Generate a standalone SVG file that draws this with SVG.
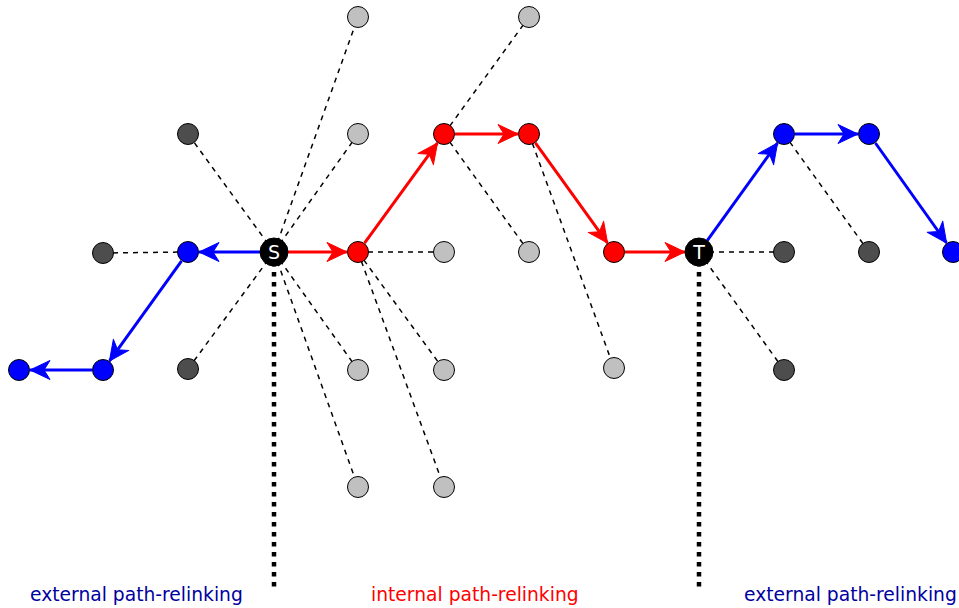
<svg xmlns="http://www.w3.org/2000/svg" width="959" height="608" viewBox="0 0 959 608">
<style>
.n{stroke:#000;stroke-width:1}
.lg{fill:#c0c0c0}
.dg{fill:#4d4d4d}
.r{fill:#ff0000}
.b{fill:#0000ff}
.k{fill:#000}
.d{stroke:#000;stroke-width:1.5;stroke-dasharray:5 5;fill:none}
.v{stroke:#000;stroke-width:4.5;stroke-dasharray:4.5 5.5;fill:none}
.ar{stroke:#ff0000;stroke-width:3;fill:none;marker-end:url(#mr)}
.ab{stroke:#0000ff;stroke-width:3;fill:none;marker-end:url(#mb)}
.lab{font-family:"DejaVu Sans",sans-serif;font-size:18.7px}
.nl{font-family:"DejaVu Sans",sans-serif;font-size:19px;fill:#fff;text-anchor:middle}
</style>
<defs>
<marker id="mr" markerUnits="userSpaceOnUse" markerWidth="24" markerHeight="22" refX="20" refY="10" orient="auto" overflow="visible">
<path d="M0,0.5 L20,10 L0,19.5 L6,10 z" fill="#ff0000" stroke="#ff0000" stroke-width="1" stroke-linejoin="round"/>
</marker>
<marker id="mb" markerUnits="userSpaceOnUse" markerWidth="24" markerHeight="22" refX="20" refY="10" orient="auto" overflow="visible">
<path d="M0,0.5 L20,10 L0,19.5 L6,10 z" fill="#0000ff" stroke="#0000ff" stroke-width="1" stroke-linejoin="round"/>
</marker>
</defs>
<g id="connectors">
<line class="v" x1="274" y1="262" x2="274" y2="592"/>
<line class="v" x1="699" y1="262" x2="699" y2="592"/>
<line class="d" x1="274" y1="252" x2="358" y2="17"/>
<line class="d" x1="274" y1="252" x2="358" y2="134"/>
<line class="d" x1="274" y1="252" x2="188" y2="134"/>
<line class="d" x1="274" y1="252" x2="188" y2="369"/>
<line class="d" x1="274" y1="252" x2="358" y2="370"/>
<line class="d" x1="274" y1="252" x2="358" y2="487"/>
<line class="d" x1="188" y1="252" x2="103" y2="253"/>
<line class="d" x1="358" y1="252" x2="444" y2="252"/>
<line class="d" x1="358" y1="252" x2="444" y2="370"/>
<line class="d" x1="358" y1="252" x2="444" y2="487"/>
<line class="d" x1="444" y1="134" x2="529" y2="17"/>
<line class="d" x1="444" y1="134" x2="529" y2="252"/>
<line class="d" x1="529" y1="134" x2="614" y2="368"/>
<line class="d" x1="699" y1="252" x2="784" y2="252"/>
<line class="d" x1="699" y1="252" x2="784" y2="370"/>
<line class="d" x1="784" y1="134" x2="869" y2="252"/>
<line class="ab" x1="262" y1="252" x2="199" y2="252"/>
<line class="ab" x1="181.6" y1="260.9" x2="109.4" y2="361.1"/>
<line class="ab" x1="92" y1="370" x2="30" y2="370"/>
<line class="ar" x1="286" y1="252" x2="347" y2="252"/>
<line class="ar" x1="364.5" y1="243.1" x2="437.5" y2="142.9"/>
<line class="ar" x1="455" y1="134" x2="518" y2="134"/>
<line class="ar" x1="535.4" y1="142.9" x2="607.6" y2="243.1"/>
<line class="ar" x1="625" y1="252" x2="685" y2="252"/>
<line class="ab" x1="707.2" y1="240.6" x2="777.6" y2="142.9"/>
<line class="ab" x1="795" y1="134" x2="858" y2="134"/>
<line class="ab" x1="875.4" y1="143" x2="946.6" y2="243"/>
</g>
<g id="n_lg1"><circle class="n lg" cx="358" cy="17" r="10.5"/></g>
<g id="n_lg2"><circle class="n lg" cx="529" cy="17" r="10.5"/></g>
<g id="n_lg3"><circle class="n lg" cx="358" cy="134" r="10.5"/></g>
<g id="n_lg4"><circle class="n lg" cx="444" cy="252" r="10.5"/></g>
<g id="n_lg5"><circle class="n lg" cx="529" cy="252" r="10.5"/></g>
<g id="n_lg6"><circle class="n lg" cx="358" cy="370" r="10.5"/></g>
<g id="n_lg7"><circle class="n lg" cx="444" cy="370" r="10.5"/></g>
<g id="n_lg8"><circle class="n lg" cx="614" cy="368" r="10.5"/></g>
<g id="n_lg9"><circle class="n lg" cx="358" cy="487" r="10.5"/></g>
<g id="n_lg10"><circle class="n lg" cx="444" cy="487" r="10.5"/></g>
<g id="n_dg1"><circle class="n dg" cx="188" cy="134" r="10.5"/></g>
<g id="n_dg2"><circle class="n dg" cx="103" cy="253" r="10.5"/></g>
<g id="n_dg3"><circle class="n dg" cx="188" cy="369" r="10.5"/></g>
<g id="n_dg4"><circle class="n dg" cx="784" cy="252" r="10.5"/></g>
<g id="n_dg5"><circle class="n dg" cx="869" cy="252" r="10.5"/></g>
<g id="n_dg6"><circle class="n dg" cx="784" cy="370" r="10.5"/></g>
<g id="n_r1"><circle class="n r" cx="358" cy="252" r="10.5"/></g>
<g id="n_r2"><circle class="n r" cx="444" cy="134" r="10.5"/></g>
<g id="n_r3"><circle class="n r" cx="529" cy="134" r="10.5"/></g>
<g id="n_r4"><circle class="n r" cx="614" cy="252" r="10.5"/></g>
<g id="n_b1"><circle class="n b" cx="188" cy="252" r="10.5"/></g>
<g id="n_b2"><circle class="n b" cx="103" cy="370" r="10.5"/></g>
<g id="n_b3"><circle class="n b" cx="19" cy="370" r="10.5"/></g>
<g id="n_b4"><circle class="n b" cx="784" cy="134" r="10.5"/></g>
<g id="n_b5"><circle class="n b" cx="869" cy="134" r="10.5"/></g>
<g id="n_b6"><circle class="n b" cx="953" cy="252" r="10.5"/></g>
<g id="n_S"><circle class="n k" cx="274" cy="252" r="14"/><text class="nl" x="274" y="258.8">S</text></g>
<g id="n_T"><circle class="n k" cx="699" cy="252" r="14"/><text class="nl" x="699" y="258.8">T</text></g>
<g id="labels">
<text class="lab" x="30" y="601" fill="#0000a0">external path-relinking</text>
<text class="lab" x="371" y="601" fill="#ff0000">internal path-relinking</text>
<text class="lab" x="744" y="601" fill="#0000a0">external path-relinking</text>
</g>
</svg>
